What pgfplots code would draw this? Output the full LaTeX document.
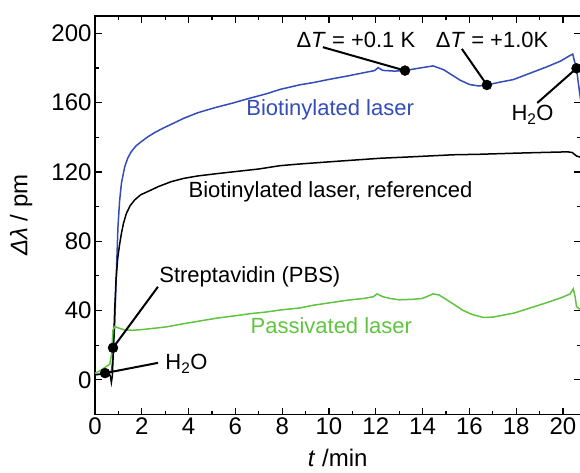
\documentclass[border=0pt]{standalone}
\usepackage{pgfplots}
\pgfplotsset{compat=1.18}
\usepackage{fontspec}
\setmainfont{Liberation Sans}
\definecolor{biotblue}{RGB}{52,76,183}
\definecolor{passgreen}{RGB}{96,196,64}
\newcommand{\tickfont}{\fontsize{24}{28}\selectfont}
\newcommand{\annfont}{\fontsize{22}{26}\selectfont}

\begin{document}
\begin{tikzpicture}[x=1pt,y=1pt]
\clip (0,0) rectangle (580,472);
\begin{axis}[
    at={(95pt,57.5pt)}, anchor=south west,
    scale only axis,
    width=485.5pt, height=398.5pt,
    xmin=0, xmax=20.75,
    ymin=-20, ymax=210,
    xtick={0,2,...,20},
    ytick={0,40,...,200},
    minor x tick num=1,
    minor y tick num=1,
    tick align=inside,
    major tick length=7pt,
    minor tick length=4pt,
    axis line style={line width=1.5pt},
    every tick/.style={line width=1.2pt, black},
    tick label style={font=\tickfont},
    /pgf/number format/assume math mode=true,
    xlabel={\textit{t} /min},
    ylabel={\textit{Δλ} / pm},
    label style={font=\tickfont},
    xlabel style={yshift=-7pt},
    ylabel style={at={(axis description cs:-0.152,0.5)}, anchor=center},
    clip=false,
]
% biotinylated laser
\addplot[color=biotblue, line width=1.5pt] coordinates {
 (0,3) (0.3,3.5) (0.6,4.2) (0.7,4.8) (0.76,12) (0.84,31) (0.91,60) (0.98,88)
 (1.05,103) (1.13,113.5) (1.27,123) (1.4,128) (1.55,131.7) (1.75,135)
 (1.98,137.5) (2.25,140.2) (2.55,142.7) (2.9,145.2) (3.26,147.5) (3.8,151)
 (4.4,154.2) (5.1,157) (5.9,159.8) (6.6,162.5) (7.35,165.2) (7.9,167.6)
 (8.76,170.3) (9.3,171.5) (10.0,173.4) (10.8,175.4) (11.5,177.3) (11.95,178.5)
 (12.1,180.2) (12.3,178.6) (12.8,178.2) (13.25,178.5) (13.8,179.8) (14.45,181.2)
 (14.9,179) (15.25,176) (15.6,173) (16.0,170.5) (16.4,169.6) (16.75,170.2)
 (17.3,171.8) (17.88,173.3) (18.6,177) (19.3,180.6) (19.9,184) (20.3,187.2)
 (20.42,188) (20.5,183.5) (20.58,179.8) (20.66,171) (20.75,162)
};
% biotinylated laser, referenced
\addplot[color=black, line width=1.5pt] coordinates {
 (0,3) (0.3,3.2) (0.6,3.5) (0.66,2) (0.7,-1.5) (0.74,2) (0.78,15) (0.84,40)
 (0.9,58) (0.97,70) (1.05,78) (1.13,84.6) (1.22,90.5) (1.34,96) (1.5,100.5)
 (1.7,103.9) (1.95,106.8) (2.26,108.7) (2.7,111.5) (3.26,114.4) (3.8,116.3)
 (4.4,117.7) (5.2,119) (6.0,120.2) (7.0,121.7) (7.9,123.6) (8.76,124.6)
 (10.5,126.3) (12.2,127.9) (13.5,128.7) (15.3,129.9) (16.45,130.2) (17.9,130.8)
 (19.0,131.2) (20.2,131.6) (20.4,131.2) (20.58,129.2) (20.75,128.5)
};
% passivated laser
\addplot[color=passgreen, line width=1.5pt] coordinates {
 (0,3.8) (0.25,5.5) (0.49,7.8) (0.63,9) (0.7,14) (0.77,28.8) (0.85,30.8)
 (0.95,30.2) (1.27,28.8) (1.6,28.6) (2.0,29) (2.55,29.8) (3.07,30.6) (3.7,32.2)
 (4.4,33.8) (5.2,35.6) (6.0,37) (6.7,38.3) (7.35,39.2) (7.9,40.3) (8.76,41.5)
 (9.3,43) (10.1,44.6) (10.8,46) (11.5,47) (11.9,48) (12.05,49.6) (12.3,48)
 (12.6,47) (13.0,46.2) (13.6,46.5) (14.0,47) (14.45,49.6) (14.7,49) (15.0,46.5)
 (15.4,43) (15.7,40.3) (16.1,37.8) (16.6,36) (17.0,36.2) (17.9,38.5) (18.6,41.5)
 (19.3,44.5) (19.9,47.3) (20.3,49.5) (20.44,52.5) (20.52,48) (20.58,42.3)
 (20.75,40.4)
};
% leader lines
\addplot[black, line width=2pt] coordinates {(2.69,9.8) (0.43,3.9)};
\addplot[black, line width=2pt] coordinates {(2.69,53.7) (0.77,18.5)};
\addplot[black, line width=2pt] coordinates {(9.74,192) (13.25,178.5)};
\addplot[black, line width=2pt] coordinates {(15.68,191) (16.75,170.2)};
\addplot[black, line width=2pt] coordinates {(18.9,159.8) (20.58,179.8)};
% event markers
\addplot[only marks, mark=*, mark size=5pt, black] coordinates {
 (0.43,3.9) (0.77,18.5) (13.25,178.5) (16.75,170.2) (20.58,179.8)
};
% labels
\node[font=\annfont, text=biotblue, anchor=base west] at (axis cs:6.32,152.3) {Biotinylated laser};
\node[font=\annfont, anchor=base west] at (axis cs:3.85,105) {Biotinylated laser, referenced};
\node[font=\annfont, text=passgreen, anchor=base west] at (axis cs:6.5,27) {Passivated laser};
\node[font=\annfont, anchor=base west] at (axis cs:2.6,56) {Streptavidin (PBS)};
\node[font=\annfont, anchor=base west] at (axis cs:2.86,5.8) {H\textsubscript{2}O};
\node[font=\annfont, anchor=base west] at (axis cs:17.65,149.6) {H\textsubscript{2}O};
\node[font=\annfont, anchor=base] at (axis cs:11.15,192) {Δ\textit{T} = +0.1 K};
\node[font=\annfont, anchor=base] at (axis cs:16.97,192) {Δ\textit{T} = +1.0K};
\end{axis}
\end{tikzpicture}
\end{document}
